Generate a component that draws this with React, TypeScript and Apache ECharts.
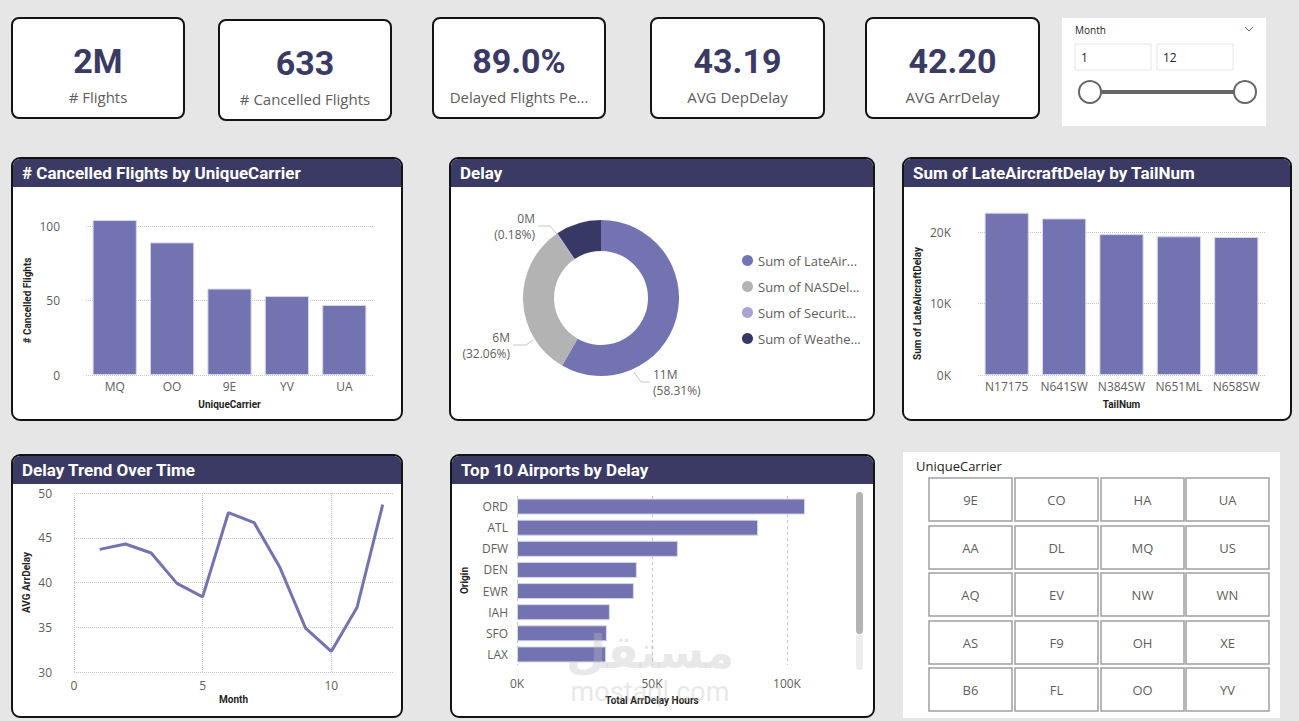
import React, { useEffect, useRef } from "react";
import * as echarts from "echarts";

// ---------- DATA ----------
const kpiValues = ["2M", "633", "89.0%", "43.19", "42.20"];
const kpiLabels = ["# Flights", "# Cancelled Flights", "Delayed Flights Pe...", "AVG DepDelay", "AVG ArrDelay"];

const carriers = ["MQ", "OO", "9E", "YV", "UA"];
const cancelledFlights = [104, 89, 58, 53, 47];

const delayTypes = ["Sum of LateAircraftDelay", "Sum of NASDelay", "Sum of SecurityDelay", "Sum of WeatherDelay"];
const delayValues = [10997000, 6046000, 34000, 1782000];

const tailNums = ["N17175", "N641SW", "N384SW", "N651ML", "N658SW"];
const lateAircraftDelay = [22700, 21900, 19700, 19400, 19300];

const months = [1, 2, 3, 4, 5, 6, 7, 8, 9, 10, 11, 12];
const avgArrDelay = [43.7, 44.3, 43.3, 39.9, 38.4, 47.8, 46.7, 41.7, 34.9, 32.3, 37.2, 48.7];

const airports = ["ORD", "ATL", "DFW", "DEN", "EWR", "IAH", "SFO", "LAX"];
const airportArrDelay = [106700, 89300, 59600, 44400, 43300, 34400, 33300, 33000];

const slicerCarriers = [
  "9E", "CO", "HA", "UA",
  "AA", "DL", "MQ", "US",
  "AQ", "EV", "NW", "WN",
  "AS", "F9", "OH", "XE",
  "B6", "FL", "OO", "YV",
];

const monthRange = ["1", "12"];

// ---------- STYLE ----------
const FONT = "'Segoe UI', 'Open Sans', 'Noto Sans', sans-serif";
const BOLD = "Roboto, 'DejaVu Sans', sans-serif";
const NAVY = "#3b3a64";
const BAR = "#7373b2";
const LABEL = "#605e5c";
const DARK = "#252423";
const GRIDC = "#c8c6c4";

const kpiBoxes = [
  { x: 12, y: 18, w: 172, h: 100 },
  { x: 219, y: 20, w: 172, h: 100 },
  { x: 433, y: 18, w: 172, h: 100 },
  { x: 651, y: 18, w: 173, h: 100 },
  { x: 866, y: 18, w: 173, h: 100 },
];

const panels = [
  { x: 12, y: 158, w: 390, h: 262, title: "# Cancelled Flights by UniqueCarrier" },
  { x: 450, y: 158, w: 424, h: 262, title: "Delay" },
  { x: 903, y: 158, w: 388, h: 262, title: "Sum of LateAircraftDelay by TailNum" },
  { x: 12, y: 455, w: 390, h: 262, title: "Delay Trend Over Time" },
  { x: 451, y: 455, w: 423, h: 262, title: "Top 10 Airports by Delay" },
];

// Pie label placement (Power BI style)
const pieLabelPlacement: any[] = [
  { x: 653, y: 382, align: "left", line: [[634, 372], [641, 382], [650, 382]] },
  { x: 510, y: 345, align: "right", line: [[533, 340], [526, 345], [513, 345]] },
  { x: 535, y: 226, align: "right", line: [[557, 234], [550, 226], [538, 226]] },
];

function buildGraphics() {
  const g: any[] = [];
  kpiBoxes.forEach((b, i) => {
    g.push({
      type: "rect", z: 0,
      shape: { x: b.x, y: b.y, width: b.w, height: b.h, r: 7 },
      style: { fill: "#fff", stroke: "#141414", lineWidth: 2 },
    });
    g.push({
      type: "text", z: 1, x: b.x + b.w / 2, y: b.y + 43,
      style: { text: kpiValues[i], fill: NAVY, fontSize: 34, fontWeight: "bold", fontFamily: BOLD, align: "center", verticalAlign: "middle" },
    });
    g.push({
      type: "text", z: 1, x: b.x + b.w / 2, y: b.y + 79,
      style: { text: kpiLabels[i], fill: LABEL, fontSize: 15, fontFamily: FONT, align: "center", verticalAlign: "middle" },
    });
  });

  // Month slicer
  g.push({ type: "rect", z: 0, shape: { x: 1062, y: 18, width: 204, height: 108 }, style: { fill: "#fff" } });
  g.push({ type: "text", z: 1, x: 1075, y: 30, style: { text: "Month", fill: DARK, fontSize: 10, fontFamily: FONT, verticalAlign: "middle" } });
  g.push({ type: "polyline", z: 1, shape: { points: [[1245, 27], [1249, 31], [1253, 27]] }, style: { stroke: "#a05070", lineWidth: 1, fill: "none" } });
  [1075, 1157].forEach((x, i) => {
    g.push({ type: "rect", z: 1, shape: { x, y: 44, width: 76, height: 26 }, style: { fill: "#fff", stroke: "#e6e6e6", lineWidth: 1 } });
    g.push({ type: "text", z: 2, x: x + 6, y: 57, style: { text: monthRange[i], fill: DARK, fontSize: 12, fontFamily: FONT, verticalAlign: "middle" } });
  });
  g.push({ type: "line", z: 1, shape: { x1: 1090, y1: 92, x2: 1245, y2: 92 }, style: { stroke: "#666", lineWidth: 4 } });
  [1090, 1245].forEach((cx) => {
    g.push({ type: "circle", z: 2, shape: { cx, cy: 92, r: 11 }, style: { fill: "#fff", stroke: "#666", lineWidth: 2 } });
  });

  // Panels
  panels.forEach((p) => {
    g.push({
      type: "rect", z: 0,
      shape: { x: p.x, y: p.y, width: p.w, height: p.h, r: 8 },
      style: { fill: "#fff", stroke: "#141414", lineWidth: 2 },
    });
    g.push({
      type: "rect", z: 1,
      shape: { x: p.x + 1, y: p.y + 1, width: p.w - 2, height: 28, r: [7, 7, 0, 0] },
      style: { fill: NAVY },
    });
    g.push({
      type: "text", z: 2, x: p.x + 10, y: p.y + 15,
      style: { text: p.title, fill: "#fff", fontSize: 17, fontWeight: "bold", fontFamily: BOLD, verticalAlign: "middle" },
    });
  });

  // Scrollbar for airports
  g.push({ type: "rect", z: 3, shape: { x: 856, y: 634, width: 7, height: 36, r: 3.5 }, style: { fill: "#ededed" } });
  g.push({ type: "rect", z: 3, shape: { x: 856, y: 492, width: 7, height: 142, r: 3.5 }, style: { fill: "#b3b3b3" } });

  // UniqueCarrier slicer
  g.push({ type: "rect", z: 0, shape: { x: 903, y: 452, width: 377, height: 266 }, style: { fill: "#fff" } });
  g.push({ type: "text", z: 1, x: 916, y: 466, style: { text: "UniqueCarrier", fill: DARK, fontSize: 13, fontFamily: FONT, verticalAlign: "middle" } });
  const colX = [929, 1015, 1101, 1186];
  const rowY = [478, 526, 573, 621, 668];
  slicerCarriers.forEach((c, i) => {
    const x = colX[i % 4];
    const y = rowY[Math.floor(i / 4)];
    g.push({ type: "rect", z: 1, shape: { x, y, width: 83, height: 43 }, style: { fill: "#fff", stroke: "#a0a0a0", lineWidth: 1.5 } });
    g.push({ type: "text", z: 2, x: x + 41.5, y: y + 22, style: { text: c, fill: LABEL, fontSize: 13, fontFamily: FONT, align: "center", verticalAlign: "middle" } });
  });

  // Watermark
  g.push({ type: "text", z: 50, silent: true, x: 650, y: 652, style: { text: "مستقل", fill: "rgba(190,190,190,0.35)", fontSize: 46, fontWeight: "bold", fontFamily: "'DejaVu Sans', sans-serif", align: "center", verticalAlign: "middle" } });
  g.push({ type: "text", z: 50, silent: true, x: 650, y: 692, style: { text: "mostaql.com", fill: "rgba(190,190,190,0.35)", fontSize: 27, fontFamily: BOLD, align: "center", verticalAlign: "middle" } });
  return g;
}

const axisLabelStyle = { color: LABEL, fontSize: 12, fontFamily: FONT };
const axisNameStyle = { color: DARK, fontSize: 10, fontWeight: "bold", fontFamily: BOLD };
const dotted = { show: true, lineStyle: { color: GRIDC, type: "dotted", width: 1 } };

export default function App() {
  const ref = useRef<HTMLDivElement>(null);
  useEffect(() => {
    if (!ref.current) return;
    const chart = echarts.init(ref.current, null, { renderer: "svg" });
    const kfmt = (v: number) => v / 1000 + "K";
    const option: any = {
      animation: false,
      backgroundColor: "#e6e6e6",
      graphic: buildGraphics(),
      grid: [
        { left: 86, right: 1299 - 373, top: 226, bottom: 721 - 375 },
        { left: 978, right: 1299 - 1265, top: 232, bottom: 721 - 375 },
        { left: 74, right: 1299 - 393, top: 493, bottom: 721 - 672 },
        { left: 517, right: 1299 - 787, top: 496, bottom: 721 - 665 },
      ],
      xAxis: [
        {
          type: "category", gridIndex: 0, data: carriers,
          axisLine: { show: false }, axisTick: { show: false },
          axisLabel: { ...axisLabelStyle, margin: 5, interval: 0 },
          name: "UniqueCarrier", nameLocation: "middle", nameGap: 24, nameTextStyle: axisNameStyle,
        },
        {
          type: "category", gridIndex: 1, data: tailNums,
          axisLine: { show: false }, axisTick: { show: false },
          axisLabel: { ...axisLabelStyle, margin: 5, interval: 0 },
          name: "TailNum", nameLocation: "middle", nameGap: 24, nameTextStyle: axisNameStyle,
        },
        {
          type: "value", gridIndex: 2, min: 0, max: 12.4, interval: 5,
          axisLine: { show: false }, axisTick: { show: false },
          axisLabel: { ...axisLabelStyle, margin: 7, showMaxLabel: false, formatter: (v: number) => (v % 5 === 0 ? String(v) : "") },
          splitLine: { ...dotted, showMaxLine: false },
          name: "Month", nameLocation: "middle", nameGap: 22, nameTextStyle: axisNameStyle,
        },
        {
          type: "value", gridIndex: 3, min: 0, max: 100000, interval: 50000,
          axisLine: { show: false }, axisTick: { show: false },
          axisLabel: { ...axisLabelStyle, margin: 12, formatter: kfmt },
          splitLine: { show: true, lineStyle: { color: GRIDC, type: [3, 3], width: 1 } },
          name: "Total ArrDelay Hours", nameLocation: "middle", nameGap: 30, nameTextStyle: axisNameStyle,
        },
      ],
      yAxis: [
        {
          type: "value", gridIndex: 0, min: 0, max: 100, interval: 50,
          axisLine: { show: false }, axisTick: { show: false },
          axisLabel: { ...axisLabelStyle, margin: 26 },
          splitLine: dotted,
          name: "# Cancelled Flights", nameLocation: "middle", nameGap: 54, nameRotate: 90, nameTextStyle: axisNameStyle,
        },
        {
          type: "value", gridIndex: 1, min: 0, max: 20000, interval: 10000,
          axisLine: { show: false }, axisTick: { show: false },
          axisLabel: { ...axisLabelStyle, margin: 27, formatter: kfmt },
          splitLine: dotted,
          name: "Sum of LateAircraftDelay", nameLocation: "middle", nameGap: 56, nameRotate: 90, nameTextStyle: axisNameStyle,
        },
        {
          type: "value", gridIndex: 2, min: 30, max: 50, interval: 5,
          axisLine: { show: false }, axisTick: { show: false },
          axisLabel: { ...axisLabelStyle, margin: 22 },
          splitLine: dotted,
          name: "AVG ArrDelay", nameLocation: "middle", nameGap: 43, nameRotate: 90, nameTextStyle: axisNameStyle,
        },
        {
          type: "category", gridIndex: 3, data: airports, inverse: true,
          axisLine: { show: false }, axisTick: { show: false },
          axisLabel: { ...axisLabelStyle, margin: 9, interval: 0 },
          name: "Origin", nameLocation: "middle", nameGap: 48, nameRotate: 90, nameTextStyle: axisNameStyle,
        },
      ],
      legend: {
        orient: "vertical", left: 737, top: 249, itemGap: 13, padding: 5,
        icon: "circle", itemWidth: 11, itemHeight: 11,
        data: delayTypes,
        textStyle: { color: LABEL, fontSize: 13, fontFamily: FONT, width: 105, overflow: "truncate", ellipsis: "..." },
      },
      series: [
        {
          type: "bar", xAxisIndex: 0, yAxisIndex: 0, data: cancelledFlights, clip: false,
          barCategoryGap: "23%", itemStyle: { color: BAR, borderColor: "#d6d6ea", borderWidth: 1 },
        },
        {
          type: "bar", xAxisIndex: 1, yAxisIndex: 1, data: lateAircraftDelay, clip: false,
          barCategoryGap: "23%", itemStyle: { color: BAR, borderColor: "#d6d6ea", borderWidth: 1 },
        },
        {
          type: "line", xAxisIndex: 2, yAxisIndex: 2, clip: false,
          data: months.map((m, i) => [m, avgArrDelay[i]]),
          showSymbol: false, lineStyle: { color: BAR, width: 3 }, itemStyle: { color: BAR },
        },
        {
          type: "bar", xAxisIndex: 3, yAxisIndex: 3, data: airportArrDelay, clip: false,
          barWidth: 16, itemStyle: { color: BAR, borderColor: "#d6d6ea", borderWidth: 1 },
        },
        {
          type: "pie", center: [601, 298], radius: [47, 78], startAngle: 90, clockwise: true,
          color: [BAR, "#b3b3b3", "#a9a3d1", "#373865"],
          data: delayTypes.map((n, i) => ({
            name: n, value: delayValues[i],
            label: { show: i !== 3 },
            labelLine: { show: i !== 3 },
          })),
          label: {
            show: true, color: LABEL, fontSize: 12, fontFamily: FONT, lineHeight: 16,
            formatter: (p: any) => Math.round(p.value / 1e6) + "M\n(" + p.percent.toFixed(2) + "%)",
          },
          labelLine: { length: 8, length2: 14, lineStyle: { color: GRIDC } },
          labelLayout: (params: any) => {
            const pl = pieLabelPlacement[params.dataIndex];
            if (!pl) return {};
            return { x: pl.x, y: pl.y, align: pl.align, verticalAlign: "middle", labelLinePoints: pl.line };
          },
        },
      ],
    };
    chart.setOption(option);
    return () => chart.dispose();
  }, []);
  return <div ref={ref} style={{ position: "absolute", left: 0, top: 0, width: 1299, height: 721 }} />;
}
